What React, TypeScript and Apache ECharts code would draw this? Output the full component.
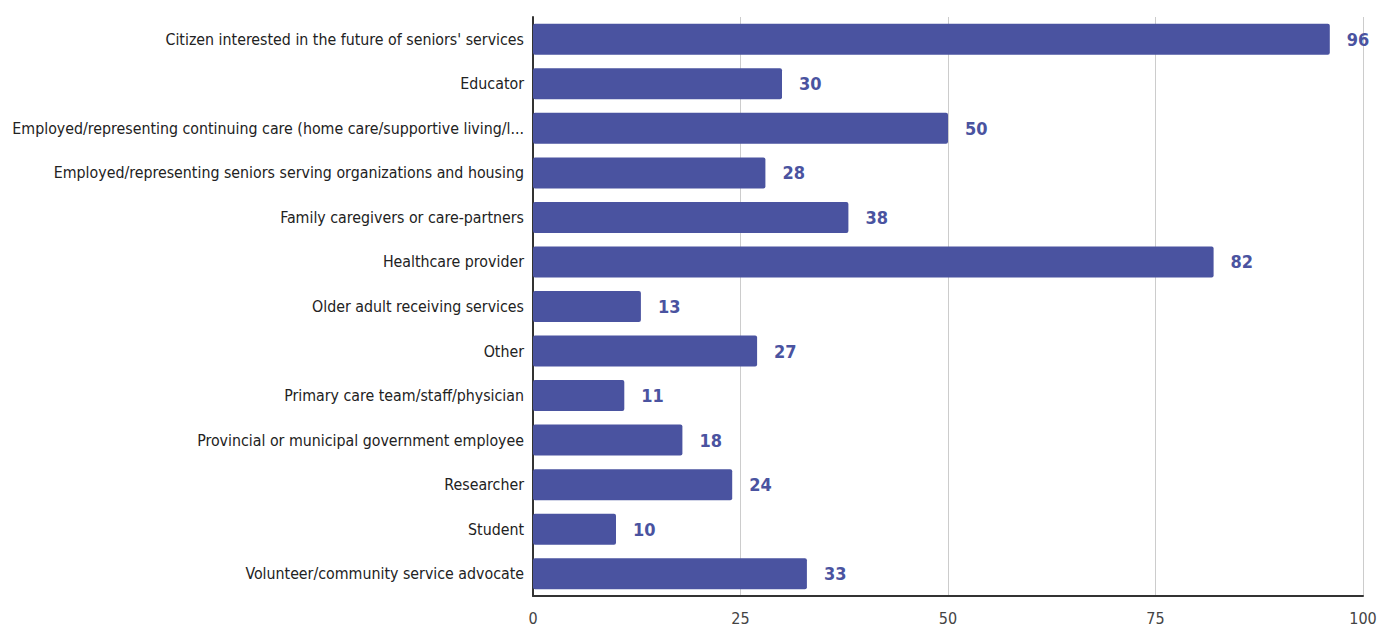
import React, { useEffect, useRef } from "react";
import * as echarts from "echarts";

const categories = [
  "Citizen interested in the future of seniors' services",
  "Educator",
  "Employed/representing continuing care (home care/supportive living/l...",
  "Employed/representing seniors serving organizations and housing",
  "Family caregivers or care-partners",
  "Healthcare provider",
  "Older adult receiving services",
  "Other",
  "Primary care team/staff/physician",
  "Provincial or municipal government employee",
  "Researcher",
  "Student",
  "Volunteer/community service advocate",
];
const values = [96, 30, 50, 28, 38, 82, 13, 27, 11, 18, 24, 10, 33];

const FONT = "'DejaVu Sans Condensed', 'Liberation Sans', sans-serif";

export default function App() {
  const ref = useRef<HTMLDivElement>(null);
  useEffect(() => {
    if (!ref.current) return;
    const chart = echarts.init(ref.current, undefined, { renderer: "svg" });
    chart.setOption({
      animation: false,
      grid: { left: 533, right: 27, top: 17, bottom: 38, containLabel: false, outerBoundsMode: "none" },
      xAxis: {
        type: "value",
        min: 0,
        max: 100,
        interval: 25,
        axisLine: { show: true, lineStyle: { color: "#333", width: 2 } },
        axisTick: { show: false },
        splitLine: { lineStyle: { color: "#cccccc", width: 1 } },
        axisLabel: { fontFamily: FONT, fontSize: 16, color: "#444", margin: 14 },
      },
      yAxis: {
        type: "category",
        data: categories,
        inverse: true,
        axisLine: { show: true, lineStyle: { color: "#333", width: 2 } },
        axisTick: { show: false },
        axisLabel: { fontFamily: FONT, fontSize: 15.8, color: "#222", margin: 9 },
      },
      series: [
        {
          type: "bar",
          data: values,
          barWidth: 31,
          itemStyle: { color: "#4a53a0", borderRadius: 2 },
          label: {
            show: true,
            position: "right",
            distance: 17,
            fontFamily: FONT,
            fontSize: 18,
            fontWeight: "bold",
            color: "#4a53a0",
          },
        },
      ],
    });
    return () => chart.dispose();
  }, []);
  return <div ref={ref} style={{ width: 1390, height: 634, position: "absolute", left: 0, top: 0 }} />;
}
